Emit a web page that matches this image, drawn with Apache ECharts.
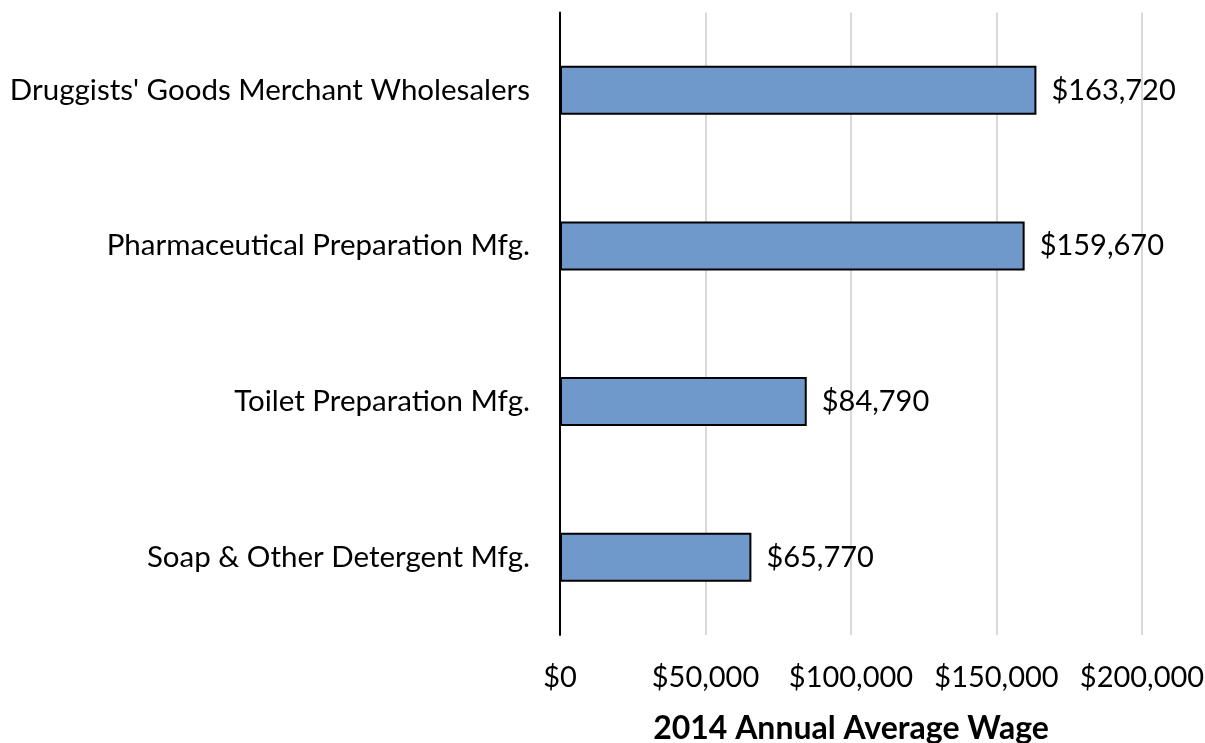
<!DOCTYPE html>
<html>
<head>
<meta charset="utf-8">
<script src="https://cdn.jsdelivr.net/npm/echarts@6/dist/echarts.min.js"></script>
<style>html,body{margin:0;padding:0;background:#fff}#c{width:1205px;height:743px}</style>
</head>
<body>
<div id="c"></div>
<script>
const categories = ["Druggists' Goods Merchant Wholesalers", "Pharmaceutical Preparation Mfg.", "Toilet Preparation Mfg.", "Soap & Other Detergent Mfg."];
const wages = [163720, 159670, 84790, 65770];
const axisTitle = "2014 Annual Average Wage";

const fmt = v => '$' + Math.round(v).toLocaleString('en-US');
const chart = echarts.init(document.getElementById('c'), null, {renderer: 'canvas'});
chart.setOption({
  animation: false,
  textStyle: {fontFamily: 'Lato'},
  grid: {left: 560, right: 63, top: 12.5, bottom: 108, containLabel: false, outerBoundsMode: 'none'},
  xAxis: {
    type: 'value', min: 0, max: 200000, interval: 50000,
    axisLine: {show: false}, axisTick: {show: false},
    splitLine: {show: true, lineStyle: {color: '#d9d9d9', width: 2}},
    axisLabel: {formatter: fmt, fontSize: 29, color: '#000', margin: 28, fontFamily: 'Lato'},
    name: axisTitle, nameLocation: 'middle', nameGap: 78,
    nameTextStyle: {fontSize: 32, fontWeight: 'bold', color: '#000', fontFamily: 'Lato'}
  },
  yAxis: {
    type: 'category', data: categories, inverse: true,
    axisLine: {show: true, lineStyle: {color: '#000', width: 2}},
    axisTick: {show: false},
    axisLabel: {fontSize: 29.5, color: '#000', margin: 30, fontFamily: 'Lato'}
  },
  series: [{
    type: 'bar', data: wages, barWidth: 49,
    itemStyle: {color: '#7099CB', borderColor: '#000', borderWidth: 2},
    label: {show: true, position: 'right', distance: 15, formatter: p => fmt(p.value), fontSize: 29, color: '#000', fontFamily: 'Lato'}
  }]
});
</script>
</body>
</html>
